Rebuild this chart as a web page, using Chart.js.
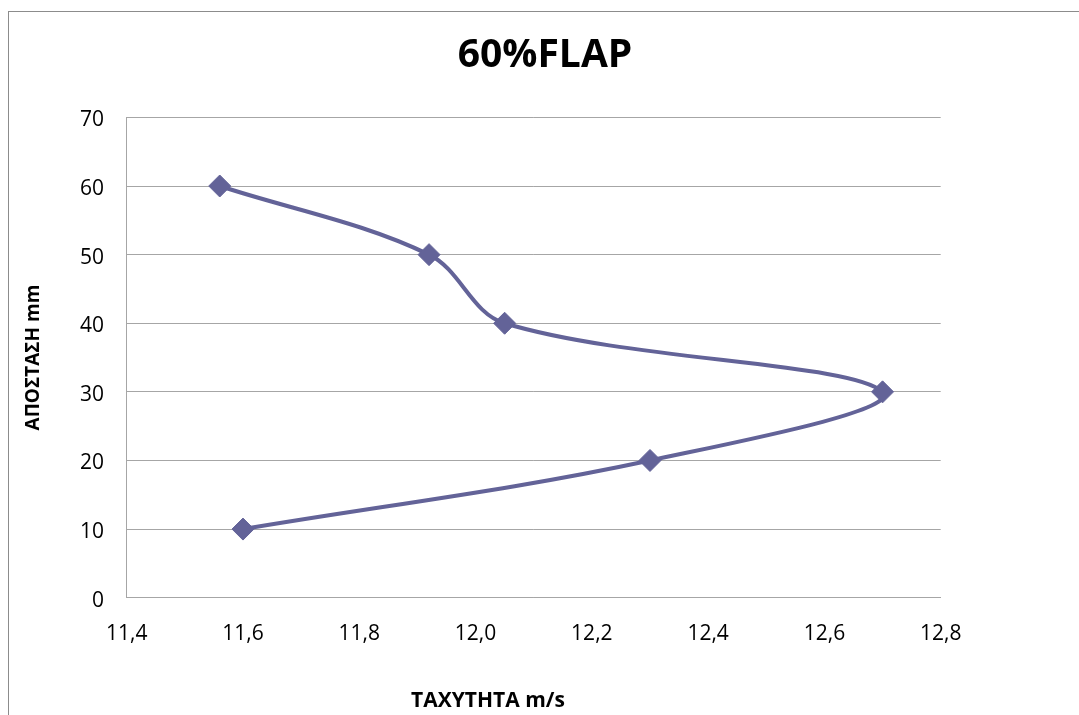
<!DOCTYPE html>
<html>
<head>
<meta charset="utf-8">
<script src="https://cdn.jsdelivr.net/npm/chart.js@4"></script>
<style>
    html, body { margin: 0; padding: 0; background: #fff; overflow: hidden; }
    #frame { position: absolute; left: 8px; top: 11px; width: 1300px; height: 900px; border: 1px solid #8c8c8c; }
    #chart { position: absolute; left: 0; top: 0; }
</style>
</head>
<body>
<div id="frame"></div>
<canvas id="chart" width="1090" height="715"></canvas>
<script>
const chartTitle = "60%FLAP";
const xTitle = "ΤΑΧΥΤΗΤΑ m/s";
const yTitle = "ΑΠΟΣΤΑΣΗ mm";

// speed (m/s) against distance (mm)
const speeds = [11.6, 12.3, 12.7, 12.05, 11.92, 11.56];
const distances = [10, 20, 30, 40, 50, 60];

const xTickValues = [11.4, 11.6, 11.8, 12.0, 12.2, 12.4, 12.6, 12.8];
const xTickLabels = ["11,4", "11,6", "11,8", "12,0", "12,2", "12,4", "12,6", "12,8"];
const yTickValues = [0, 10, 20, 30, 40, 50, 60, 70];

const lineColor = "#636398";
const gridColor = "#a6a6a6";
const font = "'Open Sans', 'DejaVu Sans', sans-serif";

// x axis title sits left of the plot centre, as in the original sheet
const xTitlePlugin = {
    id: "xTitle",
    afterDraw(chart) {
        const ctx = chart.ctx;
        ctx.save();
        ctx.font = `bold 21px ${font}`;
        ctx.fillStyle = "#000";
        ctx.textAlign = "center";
        ctx.textBaseline = "middle";
        ctx.fillText(xTitle, 488, 701);
        ctx.restore();
    },
};

new Chart(document.getElementById("chart"), {
    type: "scatter",
    data: {
        datasets: [{
            data: speeds.map((s, i) => ({ x: s, y: distances[i] })),
            showLine: true,
            borderColor: lineColor,
            backgroundColor: lineColor,
            borderWidth: 4,
            tension: 0.35,
            pointStyle: "rectRot",
            pointRadius: 11,
            pointBorderWidth: 1,
            pointBorderColor: lineColor,
            pointBackgroundColor: lineColor,
        }],
    },
    plugins: [xTitlePlugin],
    options: {
        responsive: false,
        animation: false,
        devicePixelRatio: 1,
        layout: { padding: 0 },
        plugins: {
            legend: { display: false },
            tooltip: { enabled: false },
            title: {
                display: true,
                text: chartTitle,
                color: "#000",
                font: { family: font, size: 39, weight: "bold", lineHeight: 1.2 },
                padding: { top: 32.6, bottom: 38 },
            },
        },
        scales: {
            x: {
                type: "linear",
                min: 11.4,
                max: 12.8,
                afterBuildTicks: (scale) => {
                    scale.ticks = xTickValues.map((v) => ({ value: v }));
                },
                afterFit: (scale) => { scale.height = 117.3; },
                grid: { display: false, drawTicks: false },
                border: { display: true, color: gridColor, width: 1 },
                ticks: {
                    color: "#000",
                    font: { family: font, size: 21 },
                    padding: 24,
                    maxRotation: 0,
                    callback: (value, index) => xTickLabels[index],
                },
            },
            y: {
                type: "linear",
                min: 0,
                max: 70,
                afterBuildTicks: (scale) => {
                    scale.ticks = yTickValues.map((v) => ({ value: v }));
                },
                afterFit: (scale) => { scale.width = 126.7; },
                grid: { color: gridColor, lineWidth: 1, drawTicks: false },
                border: { display: true, color: gridColor, width: 1 },
                ticks: {
                    color: "#000",
                    font: { family: font, size: 21 },
                    padding: 22.7,
                    labelOffset: 3,
                },
                title: {
                    display: true,
                    text: yTitle,
                    color: "#000",
                    font: { family: font, size: 19, weight: "bold", lineHeight: 1.2 },
                    padding: { top: 22.5, bottom: 0 },
                },
            },
            yRight: {
                type: "linear",
                position: "right",
                display: true,
                afterFit: (scale) => { scale.width = 1090 - 940.7; },
                grid: { display: false, drawTicks: false },
                border: { display: false },
                ticks: { display: false },
            },
        },
    },
});
</script>
</body>
</html>
